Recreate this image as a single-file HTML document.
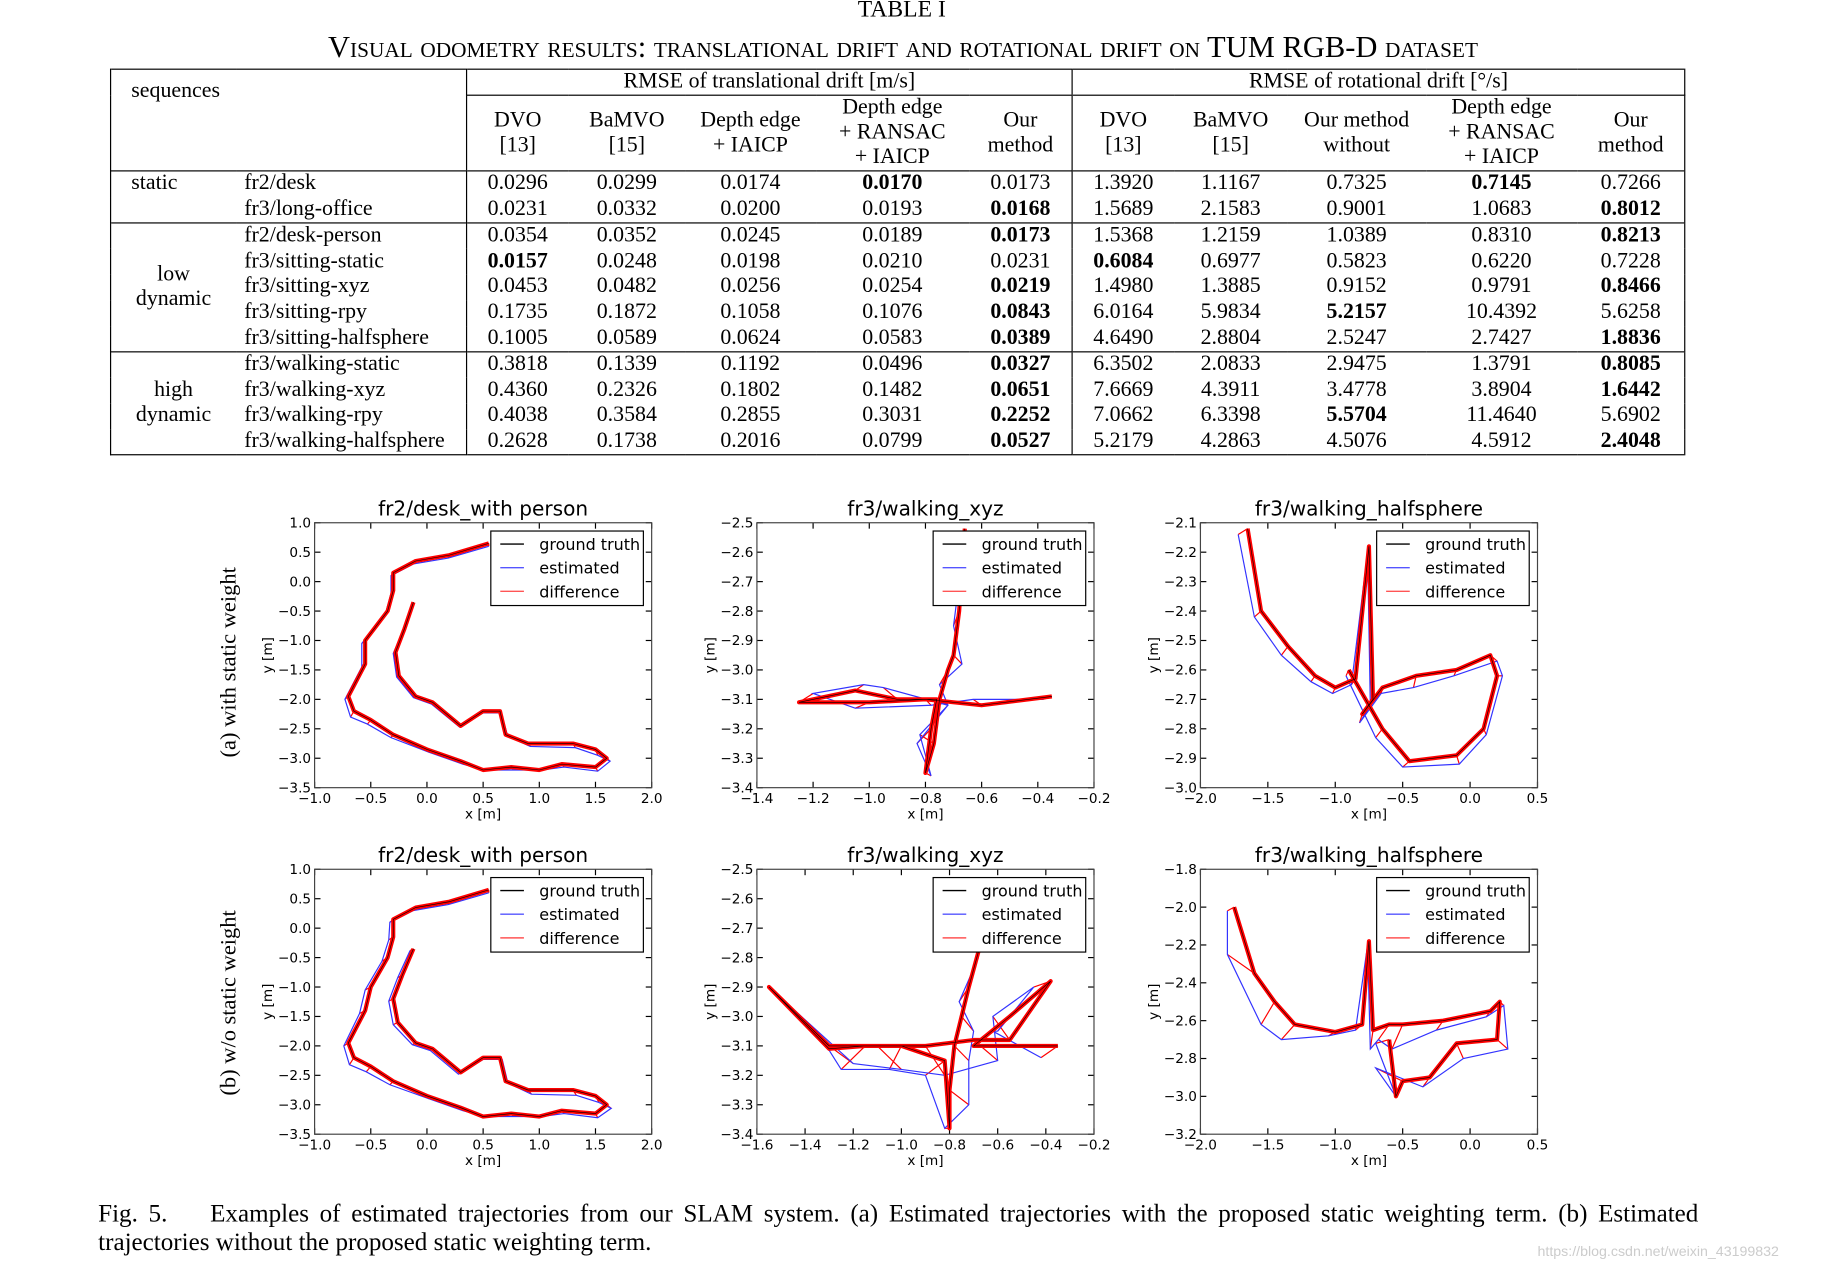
<!DOCTYPE html>
<html><head><meta charset="utf-8">
<style>
html,body{margin:0;padding:0;background:#fff;}
body{width:1845px;height:1266px;overflow:hidden;position:relative;}
#wrap{position:absolute;left:0;top:0;width:1560px;height:1070px;transform:scale(1.18269);transform-origin:0 0;font-family:"Liberation Serif",serif;color:#000;}
.abs{position:absolute;}
#tbl{position:absolute;left:93px;top:58px;border-collapse:collapse;font-size:18.5px;line-height:21px;table-layout:fixed;width:1331px;}
#tbl td{padding:0;text-align:center;white-space:nowrap;}
.b{font-weight:bold;}
</style></head><body>
<div id="wrap">
<div class="abs" style="left:0;width:1525px;top:-3px;text-align:center;font-size:20px;">TABLE I</div>
<div class="abs" style="left:0;width:1527px;top:25px;text-align:center;font-size:25.8px;font-variant:small-caps;">Visual odometry results: translational drift and rotational drift on TUM RGB-D dataset</div>

<table id="tbl">
<colgroup><col style="width:106px"><col style="width:195px"><col style="width:86px"><col style="width:99px"><col style="width:110px"><col style="width:130px"><col style="width:87px"><col style="width:86px"><col style="width:96px"><col style="width:117px"><col style="width:128px"><col style="width:91px"></colgroup>
<tr style="height:22px;border-top:1.5px solid #000;">
<td colspan="2" rowspan="2" style="text-align:left;vertical-align:top;padding:8px 0 0 17px;border-left:1.5px solid #000;border-bottom:1.5px solid #000;">sequences</td>
<td colspan="5" style="border-left:1px solid #000;border-bottom:1px solid #000;">RMSE of translational drift [m/s]</td>
<td colspan="5" style="border-left:1px solid #000;border-bottom:1px solid #000;border-right:1.5px solid #000;">RMSE of rotational drift [°/s]</td></tr>
<tr style="height:63px;border-bottom:1.5px solid #000;">
<td style="border-left:1px solid #000;">DVO<br>[13]</td><td>BaMVO<br>[15]</td><td>Depth edge<br>+ IAICP</td><td>Depth edge<br>+ RANSAC<br>+ IAICP</td><td>Our<br>method</td>
<td style="border-left:1px solid #000;">DVO<br>[13]</td><td>BaMVO<br>[15]</td><td>Our method<br>without</td><td>Depth edge<br>+ RANSAC<br>+ IAICP</td><td style="border-right:1.5px solid #000;">Our<br>method</td></tr>
<tbody>
<tr style="height:22px;"><td style="text-align:left;padding-left:17px;border-left:1.5px solid #000;">static</td><td style="text-align:left;padding-left:7px;">fr2/desk</td><td style="border-left:1px solid #000;">0.0296</td><td>0.0299</td><td>0.0174</td><td class="b">0.0170</td><td>0.0173</td><td style="border-left:1px solid #000;">1.3920</td><td>1.1167</td><td>0.7325</td><td class="b">0.7145</td><td style="border-right:1.5px solid #000;">0.7266</td></tr>
<tr style="height:22px;border-bottom:1.5px solid #000;"><td style="border-left:1.5px solid #000;"></td><td style="text-align:left;padding-left:7px;">fr3/long-office</td><td style="border-left:1px solid #000;">0.0231</td><td>0.0332</td><td>0.0200</td><td>0.0193</td><td class="b">0.0168</td><td style="border-left:1px solid #000;">1.5689</td><td>2.1583</td><td>0.9001</td><td>1.0683</td><td class="b" style="border-right:1.5px solid #000;">0.8012</td></tr>
</tbody>
<tbody>
<tr style="height:21.8px;"><td rowspan="5" style="border-left:1.5px solid #000;border-bottom:1.5px solid #000;">low<br>dynamic</td><td style="text-align:left;padding-left:7px;">fr2/desk-person</td><td style="border-left:1px solid #000;">0.0354</td><td>0.0352</td><td>0.0245</td><td>0.0189</td><td class="b">0.0173</td><td style="border-left:1px solid #000;">1.5368</td><td>1.2159</td><td>1.0389</td><td>0.8310</td><td class="b" style="border-right:1.5px solid #000;">0.8213</td></tr>
<tr style="height:21.8px;"><td style="text-align:left;padding-left:7px;">fr3/sitting-static</td><td class="b" style="border-left:1px solid #000;">0.0157</td><td>0.0248</td><td>0.0198</td><td>0.0210</td><td>0.0231</td><td class="b" style="border-left:1px solid #000;">0.6084</td><td>0.6977</td><td>0.5823</td><td>0.6220</td><td style="border-right:1.5px solid #000;">0.7228</td></tr>
<tr style="height:21.8px;"><td style="text-align:left;padding-left:7px;">fr3/sitting-xyz</td><td style="border-left:1px solid #000;">0.0453</td><td>0.0482</td><td>0.0256</td><td>0.0254</td><td class="b">0.0219</td><td style="border-left:1px solid #000;">1.4980</td><td>1.3885</td><td>0.9152</td><td>0.9791</td><td class="b" style="border-right:1.5px solid #000;">0.8466</td></tr>
<tr style="height:21.8px;"><td style="text-align:left;padding-left:7px;">fr3/sitting-rpy</td><td style="border-left:1px solid #000;">0.1735</td><td>0.1872</td><td>0.1058</td><td>0.1076</td><td class="b">0.0843</td><td style="border-left:1px solid #000;">6.0164</td><td>5.9834</td><td class="b">5.2157</td><td>10.4392</td><td style="border-right:1.5px solid #000;">5.6258</td></tr>
<tr style="height:21.8px;border-bottom:1.5px solid #000;"><td style="text-align:left;padding-left:7px;">fr3/sitting-halfsphere</td><td style="border-left:1px solid #000;">0.1005</td><td>0.0589</td><td>0.0624</td><td>0.0583</td><td class="b">0.0389</td><td style="border-left:1px solid #000;">4.6490</td><td>2.8804</td><td>2.5247</td><td>2.7427</td><td class="b" style="border-right:1.5px solid #000;">1.8836</td></tr>
</tbody>
<tbody>
<tr style="height:21.75px;"><td rowspan="4" style="border-left:1.5px solid #000;border-bottom:1.5px solid #000;">high<br>dynamic</td><td style="text-align:left;padding-left:7px;">fr3/walking-static</td><td style="border-left:1px solid #000;">0.3818</td><td>0.1339</td><td>0.1192</td><td>0.0496</td><td class="b">0.0327</td><td style="border-left:1px solid #000;">6.3502</td><td>2.0833</td><td>2.9475</td><td>1.3791</td><td class="b" style="border-right:1.5px solid #000;">0.8085</td></tr>
<tr style="height:21.75px;"><td style="text-align:left;padding-left:7px;">fr3/walking-xyz</td><td style="border-left:1px solid #000;">0.4360</td><td>0.2326</td><td>0.1802</td><td>0.1482</td><td class="b">0.0651</td><td style="border-left:1px solid #000;">7.6669</td><td>4.3911</td><td>3.4778</td><td>3.8904</td><td class="b" style="border-right:1.5px solid #000;">1.6442</td></tr>
<tr style="height:21.75px;"><td style="text-align:left;padding-left:7px;">fr3/walking-rpy</td><td style="border-left:1px solid #000;">0.4038</td><td>0.3584</td><td>0.2855</td><td>0.3031</td><td class="b">0.2252</td><td style="border-left:1px solid #000;">7.0662</td><td>6.3398</td><td class="b">5.5704</td><td>11.4640</td><td style="border-right:1.5px solid #000;">5.6902</td></tr>
<tr style="height:21.75px;border-bottom:1.5px solid #000;"><td style="text-align:left;padding-left:7px;">fr3/walking-halfsphere</td><td style="border-left:1px solid #000;">0.2628</td><td>0.1738</td><td>0.2016</td><td>0.0799</td><td class="b">0.0527</td><td style="border-left:1px solid #000;">5.2179</td><td>4.2863</td><td>4.5076</td><td>4.5912</td><td class="b" style="border-right:1.5px solid #000;">2.4048</td></tr>
</tbody>
</table>

<svg id="plots" class="abs" style="left:0;top:0;" width="1560" height="1070">
<text x="0" y="0" transform="translate(199,560) rotate(-90)" text-anchor="middle" font-family="Liberation Serif, serif" font-size="19">(a) with static weight</text>
<text x="0" y="0" transform="translate(199,848) rotate(-90)" text-anchor="middle" font-family="Liberation Serif, serif" font-size="19">(b) w/o static weight</text>
</svg>

<div class="abs" style="left:83px;width:1353px;top:1014px;font-size:21.2px;line-height:24px;text-align:justify;text-align-last:left;">Fig. 5.&nbsp;&nbsp;&nbsp; Examples of estimated trajectories from our SLAM system. (a) Estimated trajectories with the proposed static weighting term. (b) Estimated trajectories without the proposed static weighting term.</div>
<div class="abs" style="left:1300px;top:1051px;font-size:12px;color:#ccc;font-family:'Liberation Sans',sans-serif;">https://blog.csdn.net/weixin_43199832</div>
</div>

<script>
// ---- data ----
const a1GtX=[-0.12,-0.2,-0.28,-0.25,-0.1,0.05,0.3,0.5,0.65,0.7,0.9,1.3,1.5,1.6,1.5,1.2,1.0,0.75,0.5,0.3,0.0,-0.3,-0.5,-0.65,-0.7,-0.55,-0.55,-0.35,-0.3,-0.3,-0.1,0.2,0.55];
const a1GtY=[-0.35,-0.8,-1.2,-1.6,-1.95,-2.05,-2.45,-2.2,-2.2,-2.6,-2.75,-2.75,-2.85,-3.0,-3.15,-3.1,-3.2,-3.15,-3.2,-3.05,-2.85,-2.6,-2.35,-2.2,-1.95,-1.4,-1.0,-0.5,-0.15,0.15,0.35,0.45,0.65];
const a1EsX=[-0.13,-0.21,-0.3,-0.27,-0.12,0.04,0.29,0.5,0.66,0.72,0.92,1.32,1.52,1.63,1.52,1.22,1.02,0.77,0.52,0.32,0.02,-0.32,-0.53,-0.68,-0.73,-0.58,-0.58,-0.37,-0.32,-0.32,-0.12,0.19,0.55];
const a1EsY=[-0.37,-0.82,-1.22,-1.62,-1.97,-2.08,-2.47,-2.23,-2.23,-2.63,-2.8,-2.82,-2.95,-3.05,-3.22,-3.15,-3.2,-3.2,-3.2,-3.1,-2.9,-2.65,-2.42,-2.3,-2.0,-1.45,-1.05,-0.55,-0.2,0.1,0.3,0.4,0.6];
const a2GtX=[-0.66,-0.68,-0.7,-0.72,-0.75,-0.77,-0.8,-0.78,-0.76,-0.9,-1.05,-1.25,-1.0,-0.8,-0.6,-0.35];
const a2GtY=[-2.52,-2.8,-2.95,-3.0,-3.1,-3.25,-3.35,-3.2,-3.1,-3.1,-3.07,-3.11,-3.11,-3.1,-3.12,-3.09];
const a2EsX=[-0.66,-0.7,-0.67,-0.75,-0.72,-0.82,-0.78,-0.83,-0.72,-0.95,-1.02,-1.2,-1.05,-0.78,-0.63,-0.38];
const a2EsY=[-2.55,-2.85,-2.98,-3.05,-3.12,-3.22,-3.36,-3.25,-3.12,-3.06,-3.05,-3.08,-3.13,-3.12,-3.1,-3.1];
const a3GtX=[-1.65,-1.55,-1.35,-1.15,-1.0,-0.85,-0.75,-0.72,-0.8,-0.65,-0.4,-0.1,0.15,0.2,0.1,-0.1,-0.45,-0.65,-0.9];
const a3GtY=[-2.12,-2.4,-2.52,-2.62,-2.66,-2.63,-2.18,-2.7,-2.75,-2.66,-2.62,-2.6,-2.55,-2.62,-2.8,-2.89,-2.91,-2.8,-2.6];
const a3EsX=[-1.72,-1.6,-1.4,-1.18,-1.02,-0.88,-0.76,-0.74,-0.82,-0.66,-0.42,-0.12,0.2,0.24,0.12,-0.08,-0.5,-0.7,-0.92];
const a3EsY=[-2.14,-2.42,-2.55,-2.64,-2.68,-2.65,-2.2,-2.72,-2.78,-2.68,-2.66,-2.62,-2.57,-2.62,-2.82,-2.92,-2.93,-2.83,-2.62];
const b1GtX=[-0.12,-0.22,-0.3,-0.26,-0.1,0.05,0.3,0.5,0.65,0.7,0.9,1.3,1.5,1.6,1.5,1.2,1.0,0.75,0.5,0.3,0.0,-0.3,-0.5,-0.65,-0.7,-0.55,-0.5,-0.35,-0.3,-0.3,-0.1,0.2,0.55];
const b1GtY=[-0.35,-0.8,-1.2,-1.6,-1.95,-2.05,-2.45,-2.2,-2.2,-2.6,-2.75,-2.75,-2.85,-3.0,-3.15,-3.1,-3.2,-3.15,-3.2,-3.05,-2.85,-2.6,-2.35,-2.2,-1.95,-1.4,-1.0,-0.5,-0.15,0.15,0.35,0.45,0.65];
const b1EsX=[-0.15,-0.26,-0.34,-0.3,-0.13,0.03,0.28,0.5,0.67,0.72,0.93,1.33,1.53,1.64,1.52,1.22,1.02,0.77,0.52,0.32,0.02,-0.33,-0.54,-0.69,-0.74,-0.6,-0.55,-0.4,-0.34,-0.33,-0.12,0.19,0.55];
const b1EsY=[-0.38,-0.84,-1.24,-1.64,-1.98,-2.08,-2.48,-2.23,-2.23,-2.63,-2.82,-2.84,-2.96,-3.06,-3.22,-3.15,-3.2,-3.2,-3.2,-3.1,-2.9,-2.66,-2.44,-2.32,-2.0,-1.45,-1.05,-0.56,-0.2,0.1,0.3,0.4,0.6];
const b2GtX=[-0.68,-0.72,-0.75,-0.78,-0.8,-0.8,-0.82,-1.0,-1.15,-1.3,-1.55,-1.3,-1.1,-0.9,-0.7,-0.55,-0.38,-0.55,-0.7,-0.35];
const b2GtY=[-2.78,-2.9,-3.0,-3.1,-3.25,-3.38,-3.15,-3.1,-3.1,-3.11,-2.9,-3.1,-3.1,-3.1,-3.08,-3.08,-2.88,-3.0,-3.1,-3.1];
const b2EsX=[-0.68,-0.76,-0.7,-0.72,-0.72,-0.82,-0.9,-1.05,-1.25,-1.35,-1.55,-1.2,-1.0,-0.82,-0.6,-0.62,-0.45,-0.6,-0.62,-0.42];
const b2EsY=[-2.8,-2.95,-3.05,-3.15,-3.3,-3.38,-3.2,-3.18,-3.18,-3.05,-2.9,-3.16,-3.18,-3.2,-3.15,-3.0,-2.9,-3.05,-3.05,-3.14];
const b3GtX=[-1.75,-1.6,-1.45,-1.3,-1.0,-0.8,-0.75,-0.72,-0.6,-0.5,-0.2,0.15,0.22,0.2,-0.1,-0.3,-0.5,-0.55,-0.6];
const b3GtY=[-2.0,-2.35,-2.5,-2.62,-2.66,-2.62,-2.18,-2.65,-2.62,-2.62,-2.6,-2.55,-2.5,-2.7,-2.72,-2.9,-2.92,-3.0,-2.7];
const b3EsX=[-1.8,-1.8,-1.55,-1.4,-1.05,-0.85,-0.76,-0.74,-0.68,-0.58,-0.25,0.12,0.25,0.28,-0.05,-0.35,-0.7,-0.55,-0.7];
const b3EsY=[-2.02,-2.25,-2.62,-2.7,-2.68,-2.65,-2.2,-2.75,-2.7,-2.75,-2.65,-2.58,-2.52,-2.75,-2.8,-2.95,-2.85,-3.0,-2.72];
const titles=["fr2/desk_with person","fr3/walking_xyz","fr3/walking_halfsphere"];
const xt1=[-1.0,-0.5,0.0,0.5,1.0,1.5,2.0], yt1=[1.0,0.5,0.0,-0.5,-1.0,-1.5,-2.0,-2.5,-3.0,-3.5];
const xtA2=[-1.4,-1.2,-1.0,-0.8,-0.6,-0.4,-0.2], ytA2=[-2.5,-2.6,-2.7,-2.8,-2.9,-3.0,-3.1,-3.2,-3.3,-3.4];
const xtB2=[-1.6,-1.4,-1.2,-1.0,-0.8,-0.6,-0.4,-0.2];
const xt3=[-2.0,-1.5,-1.0,-0.5,0.0,0.5], ytA3=[-2.1,-2.2,-2.3,-2.4,-2.5,-2.6,-2.7,-2.8,-2.9,-3.0];
const ytB3=[-1.8,-2.0,-2.2,-2.4,-2.6,-2.8,-3.0,-3.2];
const legendLabels=["ground truth","estimated","difference"];

const NS="http://www.w3.org/2000/svg";
const svg=document.getElementById('plots');
function mk(tag,attrs,parent){const e=document.createElementNS(NS,tag);for(const k in attrs)e.setAttribute(k,attrs[k]);(parent||svg).appendChild(e);return e;}
function fmt(v){return (v<0?'\u2212':'')+Math.abs(v).toFixed(1);}
function plot(name,x0,y0,w,h,xt,yt,title,gx,gy,ex,ey){
  const g=mk('g',{});
  
  
  const xmin=xt[0],xmax=xt[xt.length-1],ymax=yt[0],ymin=yt[yt.length-1];
  const sx=v=>x0+(v-xmin)/(xmax-xmin)*w, sy=v=>y0+(ymax-v)/(ymax-ymin)*h;
  const t=mk('text',{x:x0+w/2,y:y0-6,'text-anchor':'middle','font-family':'DejaVu Sans, sans-serif','font-size':17},g);t.textContent=title;
  
  
  xt.forEach(v=>{const X=sx(v);mk('line',{x1:X,x2:X,y1:y0+h,y2:y0+h-5,stroke:'#000'},g);mk('line',{x1:X,x2:X,y1:y0,y2:y0+5,stroke:'#000'},g);
    const l=mk('text',{x:X,y:y0+h+13,'text-anchor':'middle','font-family':'DejaVu Sans, sans-serif','font-size':11.5},g);l.textContent=fmt(v);
    
    });
  yt.forEach(v=>{const Y=sy(v);mk('line',{x1:x0,x2:x0+5,y1:Y,y2:Y,stroke:'#000'},g);mk('line',{x1:x0+w,x2:x0+w-5,y1:Y,y2:Y,stroke:'#000'},g);
    const l=mk('text',{x:x0-3,y:Y+4,'text-anchor':'end','font-family':'DejaVu Sans, sans-serif','font-size':11.5},g);l.textContent=fmt(v);
    
    });
  const xl=mk('text',{x:x0+w/2,y:y0+h+26,'text-anchor':'middle','font-family':'DejaVu Sans, sans-serif','font-size':11.5},g);xl.textContent='x [m]';
  
  
  const yl=mk('text',{transform:`translate(${x0-36},${y0+h/2}) rotate(-90)`,'text-anchor':'middle','font-family':'DejaVu Sans, sans-serif','font-size':11.5},g);yl.textContent='y [m]';
  
  
  const cp='cp'+name;const cl=mk('clipPath',{id:cp},g);mk('rect',{x:x0,y:y0,width:w,height:h},cl);
  const d=mk('g',{'clip-path':`url(#${cp})`},g);
  for(let i=0;i<gx.length;i++){
    const ln=mk('line',{x1:sx(gx[i]),y1:sy(gy[i]),x2:sx(ex[i]),y2:sy(ey[i]),stroke:'#f00','stroke-width':1},d);
    
    
  }
  const ptsG=gx.map((v,i)=>sx(v)+','+sy(gy[i])).join(' '), ptsE=ex.map((v,i)=>sx(v)+','+sy(ey[i])).join(' ');
  const pe=mk('polyline',{points:ptsE,fill:'none',stroke:'#33f','stroke-width':1},d);
  
  
  const pr=mk('polyline',{points:ptsG,fill:'none',stroke:'#f00','stroke-width':3.5,'stroke-linejoin':'round'},d);
  
  
  const pg=mk('polyline',{points:ptsG,fill:'none',stroke:'#000','stroke-width':0.5},d);
  
  
  mk('rect',{x:x0,y:y0,width:w,height:h,fill:'none',stroke:'#444','stroke-width':1},g);
  const lg=mk('g',{},g);
  
  
  const lx=x0+w-136,ly=y0+7;
  mk('rect',{x:lx,y:ly,width:129,height:63,fill:'#fff',stroke:'#000','stroke-width':1},lg);
  const cols=['#000','#55f','#f55'];
  legendLabels.forEach((s,i)=>{const Y=ly+11+i*20;mk('line',{x1:lx+8,x2:lx+28,y1:Y,y2:Y,stroke:cols[i],'stroke-width':1.2},lg);
    const tx=mk('text',{x:lx+41,y:Y+5,'font-family':'DejaVu Sans, sans-serif','font-size':13.5},lg);tx.textContent=s;
    
    });
}
plot('plot-a-desk',266,442,285,224,xt1,yt1,titles[0],a1GtX,a1GtY,a1EsX,a1EsY);
plot('plot-a-xyz',640,442,285,224,xtA2,ytA2,titles[1],a2GtX,a2GtY,a2EsX,a2EsY);
plot('plot-a-half',1015,442,285,224,xt3,ytA3,titles[2],a3GtX,a3GtY,a3EsX,a3EsY);
plot('plot-b-desk',266,735,285,224,xt1,yt1,titles[0],b1GtX,b1GtY,b1EsX,b1EsY);
plot('plot-b-xyz',640,735,285,224,xtB2,ytA2,titles[1],b2GtX,b2GtY,b2EsX,b2EsY);
plot('plot-b-half',1015,735,285,224,xt3,ytB3,titles[2],b3GtX,b3GtY,b3EsX,b3EsY);
</script>
</body></html>
